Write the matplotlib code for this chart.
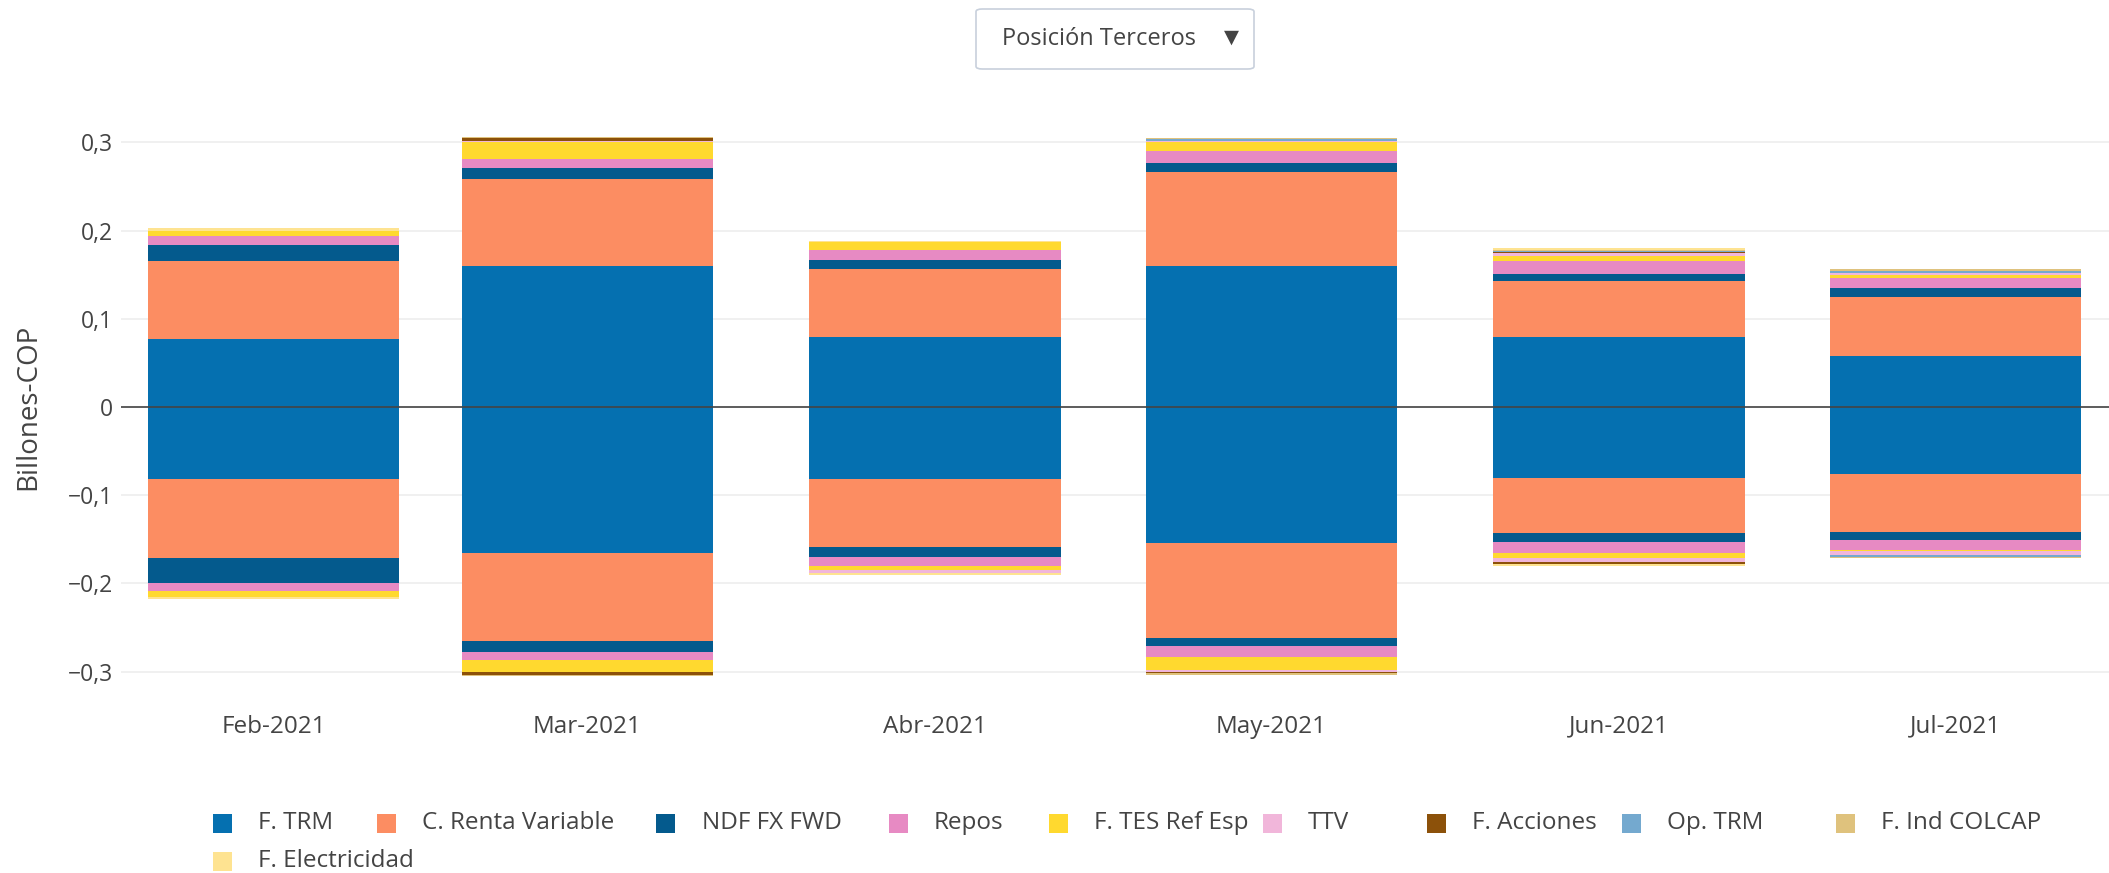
import matplotlib
matplotlib.use("Agg")
import matplotlib.pyplot as plt
import matplotlib.dates as mdates
from matplotlib.patches import FancyBboxPatch, Rectangle
import numpy as np
import pandas as pd

# ---------------- data ----------------
months = ["2021-02-01", "2021-03-01", "2021-04-01", "2021-05-01", "2021-06-01", "2021-07-01"]
month_labels = ["Feb-2021", "Mar-2021", "Abr-2021", "May-2021", "Jun-2021", "Jul-2021"]

series_names = ["F. TRM", "C. Renta Variable", "NDF FX FWD", "Repos", "F. TES Ref Esp",
                "TTV", "F. Acciones", "Op. TRM", "F. Ind COLCAP", "F. Electricidad"]
series_colors = ["#0570b0", "#fc8d62", "#045a8d", "#e78ac3", "#ffd92f",
                 "#f1b6da", "#8c510a", "#74a9cf", "#dfc27d", "#fee391"]

# positive side (Billones COP)
f_trm_pos = [0.077, 0.160, 0.079, 0.160, 0.079, 0.0574]
c_renta_pos = [0.089, 0.098, 0.077, 0.107, 0.064, 0.067]
ndf_pos = [0.018, 0.013, 0.011, 0.010, 0.008, 0.010]
repos_pos = [0.0095, 0.010, 0.0106, 0.013, 0.014, 0.012]
tes_pos = [0.0064, 0.020, 0.009, 0.010, 0.0064, 0.003]
ttv_pos = [0.0, 0.0005, 0.0, 0.002, 0.003, 0.0026]
acciones_pos = [0.0, 0.003, 0.0, 0.0, 0.0015, 0.0]
op_trm_pos = [0.0, 0.0, 0.0, 0.0015, 0.0015, 0.0023]
colcap_pos = [0.0, 0.0015, 0.0, 0.0015, 0.001, 0.002]
electricidad_pos = [0.003, 0.0, 0.002, 0.0, 0.0017, 0.0]

# negative side (Billones COP)
f_trm_neg = [-0.0815, -0.1655, -0.0815, -0.1546, -0.080, -0.0755]
c_renta_neg = [-0.0895, -0.0999, -0.077, -0.1072, -0.0634, -0.066]
ndf_neg = [-0.029, -0.0123, -0.0115, -0.009, -0.0102, -0.0092]
repos_neg = [-0.0085, -0.0093, -0.010, -0.0124, -0.0124, -0.0109]
tes_neg = [-0.0068, -0.013, -0.005, -0.0153, -0.0047, -0.0017]
ttv_neg = [0.0, -0.001, -0.0033, -0.0015, -0.0045, -0.0047]
acciones_neg = [0.0, -0.003, 0.0, -0.002, -0.003, 0.0]
op_trm_neg = [0.0, 0.0, 0.0, 0.0, 0.0, -0.0023]
colcap_neg = [0.0, -0.001, 0.0, -0.0015, 0.0, -0.001]
electricidad_neg = [-0.0027, 0.0, -0.0017, 0.0, -0.0017, 0.0]

y_ticks = [-0.3, -0.2, -0.1, 0.0, 0.1, 0.2, 0.3]
y_tick_labels = ["\u22120,3", "\u22120,2", "\u22120,1", "0", "0,1", "0,2", "0,3"]
y_title = "Billones-COP"
dropdown_text = "Posición Terceros"

pos_data = [f_trm_pos, c_renta_pos, ndf_pos, repos_pos, tes_pos, ttv_pos,
            acciones_pos, op_trm_pos, colcap_pos, electricidad_pos]
neg_data = [f_trm_neg, c_renta_neg, ndf_neg, repos_neg, tes_neg, ttv_neg,
            acciones_neg, op_trm_neg, colcap_neg, electricidad_neg]

# ---------------- figure ----------------
plt.rcParams['font.family'] = ['Open Sans', 'DejaVu Sans']
W, H = 2109, 873
fig = plt.figure(figsize=(W / 100, H / 100), dpi=100)
ax = fig.add_axes([121 / W, 1 - 691 / H, 1 - 121 / W, (691 - 123) / H])

x = mdates.date2num(pd.to_datetime(months).to_pydatetime())
bar_w = 22.4

bottom_p = np.zeros(len(x))
bottom_n = np.zeros(len(x))
for name, col, pv, nv in zip(series_names, series_colors, pos_data, neg_data):
    pv = np.array(pv)
    nv = np.array(nv)
    ax.bar(x, pv, width=bar_w, bottom=bottom_p, color=col, linewidth=0, zorder=3)
    ax.bar(x, nv, width=bar_w, bottom=bottom_n, color=col, linewidth=0, zorder=3)
    bottom_p += pv
    bottom_n += nv

TXT = '#444444'
ax.set_xlim(x[0] - 13.6, x[-1] + 13.7)
ax.set_ylim(-0.322, 0.322)
ax.set_yticks(y_ticks)
ax.set_yticklabels(y_tick_labels)
ax.set_xticks(x)
ax.set_xticklabels(month_labels)
ax.tick_params(axis='both', length=0, colors=TXT)
ax.tick_params(axis='x', pad=17, labelsize=17.5)
ax.tick_params(axis='y', pad=6, labelsize=16.5)
for s in ax.spines.values():
    s.set_visible(False)
ax.grid(axis='y', color='#eeeeee', linewidth=1.2, zorder=0)
ax.axhline(0, color='#444444', linewidth=1.2, zorder=4)
ax.set_ylabel(y_title, fontsize=20, color=TXT, labelpad=18)

# dropdown
box = FancyBboxPatch((976 / W, 1 - 69 / H), (1254 - 976) / W, 60 / H,
                     boxstyle="round,pad=0,rounding_size=0.003",
                     transform=fig.transFigure, facecolor='white',
                     edgecolor='#c8d0dc', linewidth=1.2)
fig.patches.append(box)
fig.text(1002 / W, 1 - 39 / H, dropdown_text, fontsize=17, color=TXT,
         va='center', ha='left')
fig.text(1231 / W, 1 - 37 / H, "\u25BC", fontsize=14, color=TXT,
         va='center', ha='center', family=['DejaVu Sans'])

# legend (manual, plotly-like)
leg_x = [222, 386, 666, 898, 1058, 1272, 1436, 1631, 1845, 222]
leg_y = [823] * 9 + [861]
sq = 19
for name, col, lx, ly in zip(series_names, series_colors, leg_x, leg_y):
    fig.patches.append(Rectangle(((lx - sq / 2) / W, 1 - (ly + sq / 2) / H), sq / W, sq / H,
                                 transform=fig.transFigure, facecolor=col, edgecolor='none'))
    fig.text((lx + 36) / W, 1 - ly / H, name, fontsize=17.5, color=TXT,
             va='center', ha='left')

fig.savefig("out.png", dpi=100, facecolor='white')
